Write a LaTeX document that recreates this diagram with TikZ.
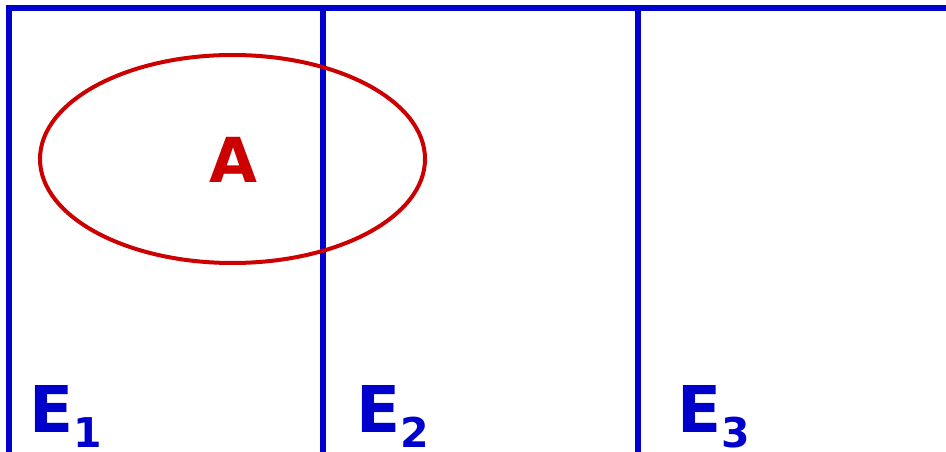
\documentclass[tikz,border=0pt]{standalone}
\usepackage{fontspec}
\setmainfont{DejaVu Sans}
\usetikzlibrary{shapes.geometric}
\definecolor{myblue}{RGB}{0,0,204}
\definecolor{myred}{RGB}{204,0,0}
\begin{document}
\begin{tikzpicture}[x=1pt,y=-1pt,
  bluel/.style={draw=myblue,line width=6pt},
  lbl/.style={inner sep=0pt,anchor=base west,text=myblue,font=\bfseries\fontsize{64.5}{64.5}\selectfont},
  subs/.style={inner sep=0pt,anchor=base west,text=myblue,font=\bfseries\fontsize{41}{41}\selectfont}]
\useasboundingbox (0,0) rectangle (946,452);
\coordinate (tl) at (9,8);
\coordinate (tr) at (950,8);
\coordinate (b1) at (9,460);
\coordinate (t2) at (323,8);
\coordinate (b2) at (323,460);
\coordinate (t3) at (638,8);
\coordinate (b3) at (638,460);
\draw[bluel,line cap=rect] (tr) -- (tl) -- (b1);
\draw[bluel] (t2) -- (b2);
\draw[bluel] (t3) -- (b3);
\node[draw=myred,line width=4pt,ellipse,minimum width=385pt,minimum height=208pt,inner sep=0pt] (ell) at (232.5,159) {};
\node[inner sep=0pt,text=myred,font=\bfseries\fontsize{62}{62}\selectfont,anchor=base] (A) at (233,182) {A};
\node[lbl] (E1) at (29,432) {E};
\node[subs] (s1) at (E1.base east) [yshift=-15pt] {1};
\node[lbl] (E2) at (356,432) {E};
\node[subs] (s2) at (E2.base east) [yshift=-15pt] {2};
\node[lbl] (E3) at (677,432) {E};
\node[subs] (s3) at (E3.base east) [yshift=-15pt] {3};
\end{tikzpicture}
\end{document}
